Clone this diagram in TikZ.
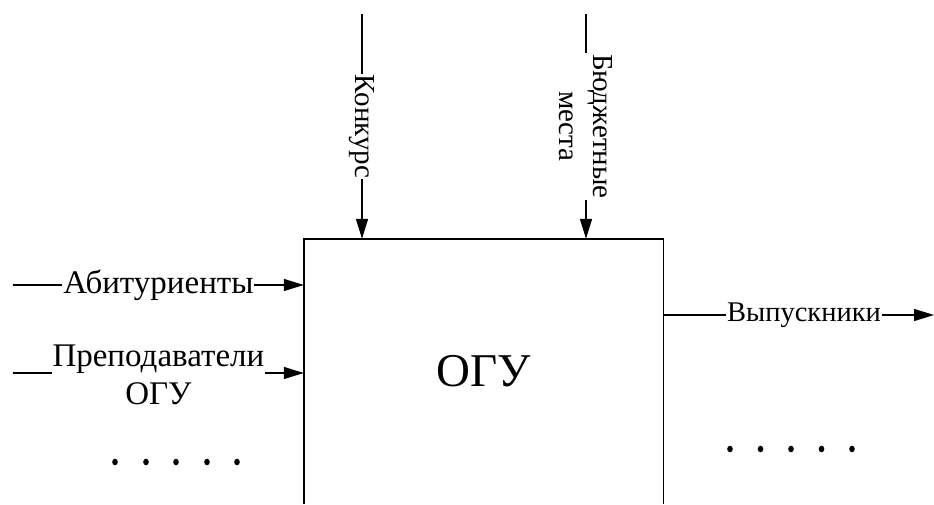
\documentclass[tikz,border=0pt]{standalone}
\usepackage{fontspec}
\setmainfont{Liberation Serif}
\usetikzlibrary{arrows.meta}
\begin{document}
\begin{tikzpicture}[x=1pt,y=-1pt,
  flow/.style={line width=1.4pt,-{Triangle[length=20pt,width=12pt]}},
  lbl/.style={fill=white,inner sep=1pt,align=center},
  big/.style={font=\fontsize{33}{38}\selectfont},
  mid/.style={font=\fontsize{29}{34}\selectfont}]
  \useasboundingbox (0,0) rectangle (934,504);
  % activity box, open at the bottom
  \node[minimum width=359pt,minimum height=265pt,inner sep=0pt,
        font=\fontsize{47}{52}\selectfont] (box) at (483.5,371.5) {ОГУ};
  \draw[line width=1.4pt] (box.south west) -- (box.north west)
        -- (box.north east) -- (box.south east);
  % controls from above
  \coordinate (c1) at (362,14);
  \coordinate (c2) at (586,14);
  \draw[flow] (c1) -- (c1 |- box.north)
    node[lbl,mid,midway,rotate=-90] {Конкурс};
  \draw[flow] (c2) -- (c2 |- box.north)
    node[lbl,mid,midway,rotate=-90] {Бюджетные\\места};
  % inputs from the left
  \coordinate (i1) at (13,285);
  \coordinate (i2) at (13,373);
  \draw[flow] (i1) -- (i1 -| box.west)
    node[lbl,big,midway] {Абитуриенты};
  \draw[flow] (i2) -- (i2 -| box.west)
    node[lbl,big,midway,yshift=-2pt] {Преподаватели\\ОГУ};
  % output to the right
  \coordinate (o1) at (934,315);
  \draw[flow] (o1 -| box.east) -- (o1)
    node[lbl,pos=0.52,font=\fontsize{28.5}{32}\selectfont] {Выпускники};
  % ellipses for further arrows
  \foreach \x in {115,146,176,207,237}
    \fill (\x,462) ellipse (2.8pt and 3.3pt);
  \foreach \x in {730,760.5,791,821.5,852}
    \fill (\x,449) ellipse (2.8pt and 3.3pt);
\end{tikzpicture}
\end{document}
